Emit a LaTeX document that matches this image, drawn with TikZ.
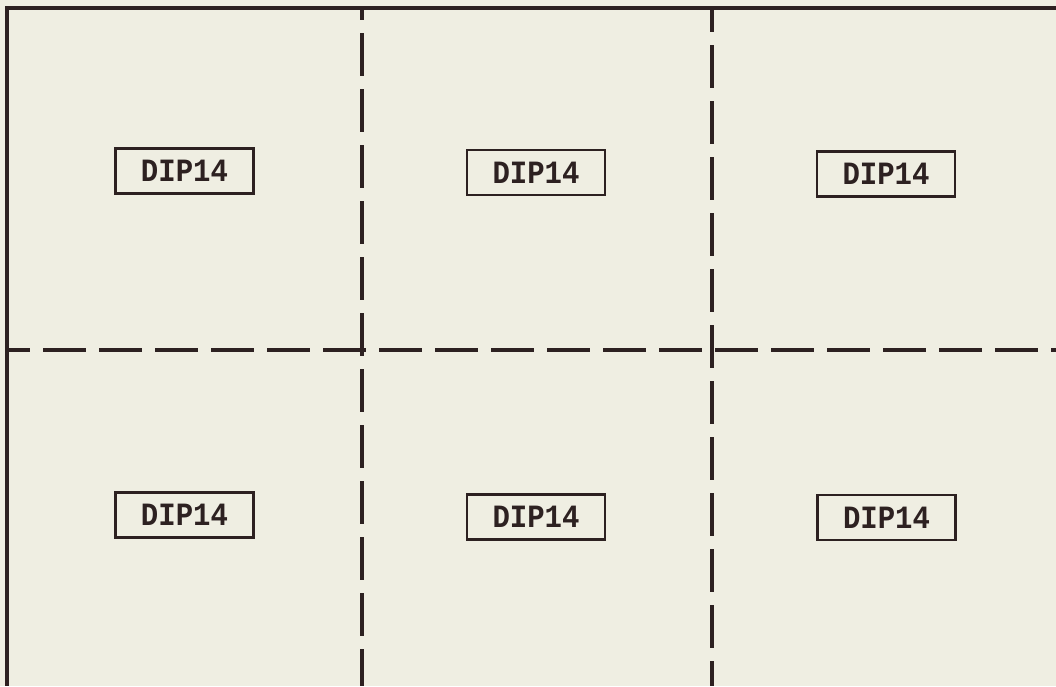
\documentclass[tikz,border=0pt]{standalone}
\usepackage{fontspec}
\newfontfamily\plotfont{Liberation Mono}
\definecolor{paper}{RGB}{239,238,226}
\definecolor{ink}{RGB}{45,33,33}

\begin{document}
\begin{tikzpicture}[x=1pt,y=-1pt,
  chip/.style={draw=ink,line width=2.6pt,fill=paper,minimum width=138pt,minimum height=45pt,
               inner sep=0pt,font=\plotfont\bfseries\fontsize{29}{29}\selectfont,text=ink},
  frame/.style={draw=ink,line width=3.2pt},
  cut/.style={draw=ink,line width=3.2pt,dash pattern=on 43pt off 13pt}]
\useasboundingbox[fill=paper] (0,0) rectangle (1056,686);

% board edge: only top and left are printed
\draw[frame] (1056,8) -- (7,8) -- (7,686);

% cutting lines between the six cells
\draw[cut,dash phase=20pt] (7,350) -- (1056,350);
\draw[cut,dash phase=31pt] (362,8) -- (362,686);
\draw[cut,dash phase=19pt] (712,8) -- (712,686);

% one package per cell
\node[chip] (c11) at (184.5,171) {\scalebox{1}[1.12]{DIP14}};
\node[chip] (c12) at (536,172.5) {\scalebox{1}[1.12]{DIP14}};
\node[chip] (c13) at (886,174) {\scalebox{1}[1.12]{DIP14}};
\node[chip] (c21) at (184.5,515) {\scalebox{1}[1.12]{DIP14}};
\node[chip] (c22) at (536,517) {\scalebox{1}[1.12]{DIP14}};
\node[chip] (c23) at (886.5,517.5) {\scalebox{1}[1.12]{DIP14}};
\end{tikzpicture}
\end{document}
